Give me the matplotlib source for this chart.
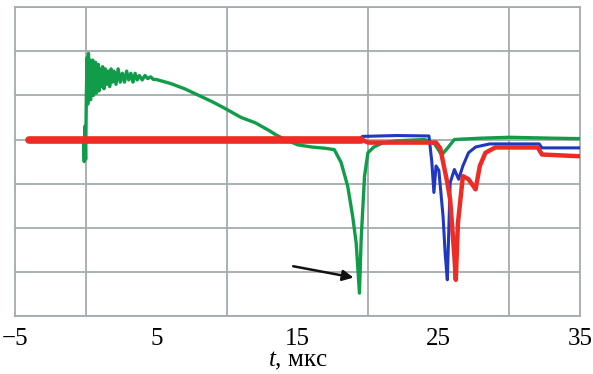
import matplotlib
matplotlib.use("Agg")
import matplotlib.pyplot as plt

plt.rcParams['font.family'] = ['Liberation Serif', 'DejaVu Serif']
plt.rcParams['mathtext.fontset'] = 'custom'
plt.rcParams['mathtext.it'] = 'Liberation Serif:italic'
plt.rcParams['mathtext.rm'] = 'Liberation Serif'

# Green trace
g_t = [-4.0, -0.15, -0.1, -0.05, 0.0, 0.05, 0.1, 0.15, 0.2, 0.25, 0.3, 0.35, 0.4, 0.45,
       0.5, 0.55, 0.6, 0.65, 0.7, 0.75, 0.8, 0.85, 0.9, 0.95, 1.0, 1.1, 1.2, 1.3, 1.4,
       1.5, 1.6, 1.7, 1.8, 1.9, 2.0, 2.15, 2.3, 2.45, 2.6, 2.75, 2.9, 3.05, 3.2, 3.35,
       3.5, 3.65, 3.8, 4.0, 4.2, 4.4, 4.6, 4.8,
       5.0, 6.0, 7.0, 8.0, 9.0, 10.0, 11.0, 12.0, 13.0, 13.5, 14.0, 14.5, 15.0, 16.0,
       17.0, 17.6, 18.08, 18.55, 18.9, 19.15, 19.38, 19.5, 19.74, 19.98, 20.4, 21.0,
       22.0, 24.0, 24.7, 25.2, 25.6, 26.1, 28.0, 30.0, 33.0, 35.0]
g_y = [0.0, 0.0, -0.5, 0.3, -0.45, 1.0, 1.85, 0.8, 1.95, 1.0, 1.8, 0.9, 1.75, 1.1,
       1.8, 1.0, 1.7, 1.15, 1.75, 1.05, 1.65, 1.2, 1.7, 1.1, 1.6, 1.2, 1.65, 1.15, 1.6,
       1.25, 1.55, 1.2, 1.6, 1.3, 1.55, 1.25, 1.6, 1.3, 1.5, 1.3, 1.55, 1.35, 1.5, 1.3,
       1.5, 1.35, 1.45, 1.35, 1.45, 1.38, 1.42, 1.36,
       1.36, 1.27, 1.15, 1.0, 0.85, 0.68, 0.5, 0.38, 0.2, 0.1, 0.02, -0.05, -0.12, -0.17,
       -0.2, -0.23, -0.52, -1.06, -1.74, -2.35, -3.48, -2.27, -0.83, -0.3, -0.17, -0.08,
       -0.03, 0.0, -0.1, -0.35, -0.2, 0.0, 0.03, 0.05, 0.03, 0.02]

# Blue trace
b_t = [-4.0, 19.3, 19.6, 22.0, 24.3, 24.5, 24.65, 24.8, 25.0, 25.3, 25.45, 25.6, 25.7,
       25.8, 26.1, 26.4, 26.7, 27.1, 27.6, 28.6, 30.0, 32.1, 32.3, 35.0]
b_y = [0.0, 0.0, 0.07, 0.09, 0.08, -0.5, -1.2, -0.6, -0.7, -1.75, -2.6, -3.18, -2.1,
       -0.98, -0.68, -0.9, -0.6, -0.3, -0.17, -0.1, -0.1, -0.1, -0.19, -0.19]

# Red trace
r_t = [-4.0, 19.5, 20.0, 24.8, 25.1, 25.6, 25.8, 26.1, 26.2, 26.35, 26.7, 27.1, 27.6,
       27.9, 28.3, 29.0, 32.0, 32.3, 35.0]
r_y = [0.0, 0.0, -0.07, -0.07, -0.2, -0.98, -1.36, -2.65, -3.18, -1.9, -0.83, -0.9, -1.13,
       -0.6, -0.3, -0.18, -0.18, -0.34, -0.38]

x_ticks = [-5, 5, 15, 25, 35]
x_tick_labels = ['\u22125', '5', '15', '25', '35']

fig = plt.figure(figsize=(5.93, 3.74), dpi=100)
ax = fig.add_axes([0.0253, 0.155, 0.953, 0.826])

ax.plot(g_t, g_y, color='#119c4a', lw=2.4, zorder=3)
ax.plot(b_t, b_y, color='#2038c0', lw=2.2, zorder=4)
ax.plot(r_t, r_y, color='#ee2b24', lw=3.2, zorder=5)
ax.plot([-4.0, 19.5], [0, 0], color='#ee2b24', lw=5.5, solid_capstyle='round', zorder=5)

ax.set_xlim(-5, 35)
ax.set_ylim(-4, 3)
ax.set_xticks(x_ticks)
ax.set_xticklabels(x_tick_labels, fontsize=18)
ax.set_xticks(range(-5, 36, 5), minor=True)
ax.set_yticks(range(-4, 4), minor=True)
ax.set_yticks([])
ax.grid(True, which='minor', color='#a3abaf', lw=1.3)
ax.tick_params(which='both', length=0, pad=8.5)
for s in ax.spines.values():
    s.set_color('#a3abaf')
    s.set_linewidth(1.3)
ax.set_xlabel('$t$, мкс', fontsize=18, labelpad=0)

ax.annotate('', xy=(19.15, -3.14), xytext=(14.5, -2.86),
            arrowprops=dict(arrowstyle='-|>', color='#111111', lw=1.8,
                            mutation_scale=16), zorder=6)

fig.savefig('out.png', dpi=100)
